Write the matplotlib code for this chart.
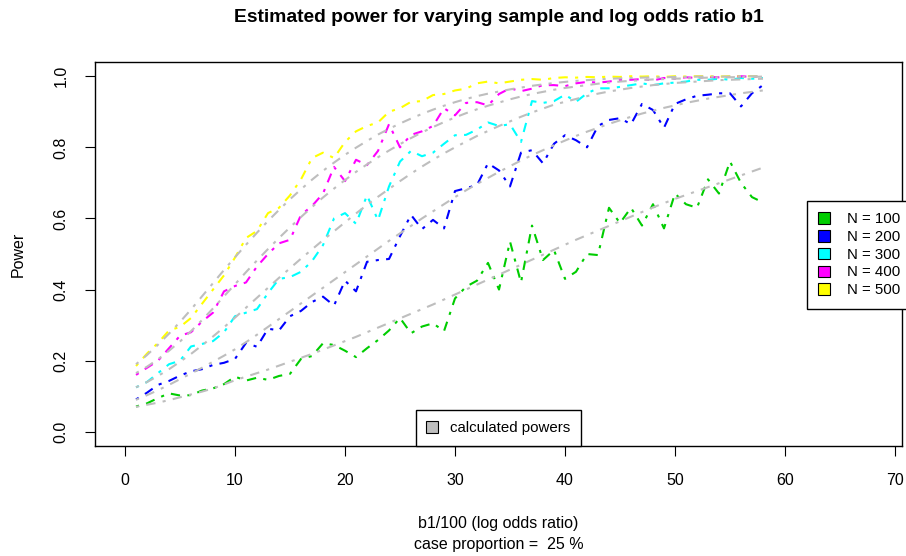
import matplotlib
matplotlib.use("Agg")
import matplotlib.pyplot as plt
from matplotlib.patches import Patch

# ---------------- data ----------------
x_vals = list(range(1, 59))
sample_sizes = [100, 200, 300, 400, 500]

sim_100 = [0.071, 0.080, 0.095, 0.108, 0.102, 0.103, 0.116, 0.122, 0.134, 0.155,
           0.144, 0.152, 0.146, 0.157, 0.163, 0.205, 0.213, 0.249, 0.244, 0.228,
           0.210, 0.235, 0.258, 0.285, 0.320, 0.277, 0.296, 0.305, 0.283, 0.375,
           0.408, 0.425, 0.475, 0.400, 0.535, 0.420, 0.580, 0.483, 0.511, 0.430,
           0.450, 0.500, 0.497, 0.630, 0.587, 0.630, 0.580, 0.640, 0.572, 0.670,
           0.640, 0.630, 0.710, 0.670, 0.760, 0.700, 0.660, 0.645]
sim_200 = [0.091, 0.110, 0.132, 0.143, 0.158, 0.170, 0.176, 0.188, 0.194, 0.205,
           0.250, 0.239, 0.290, 0.285, 0.325, 0.340, 0.365, 0.380, 0.355, 0.425,
           0.395, 0.478, 0.483, 0.486, 0.550, 0.610, 0.570, 0.596, 0.572, 0.677,
           0.685, 0.694, 0.755, 0.735, 0.690, 0.785, 0.792, 0.755, 0.810, 0.834,
           0.820, 0.800, 0.860, 0.877, 0.882, 0.865, 0.922, 0.905, 0.855, 0.922,
           0.935, 0.945, 0.948, 0.952, 0.952, 0.915, 0.952, 0.975]
sim_300 = [0.125, 0.140, 0.165, 0.190, 0.200, 0.240, 0.247, 0.255, 0.280, 0.325,
           0.335, 0.345, 0.390, 0.430, 0.435, 0.450, 0.480, 0.525, 0.600, 0.615,
           0.585, 0.665, 0.595, 0.690, 0.760, 0.790, 0.775, 0.785, 0.810, 0.834,
           0.835, 0.850, 0.870, 0.860, 0.865, 0.815, 0.930, 0.925, 0.930, 0.948,
           0.928, 0.952, 0.966, 0.966, 0.970, 0.975, 0.980, 0.975, 0.980, 0.982,
           0.985, 0.990, 0.990, 0.993, 0.990, 0.995, 0.993, 0.995]
sim_400 = [0.160, 0.180, 0.200, 0.235, 0.270, 0.280, 0.310, 0.335, 0.395, 0.410,
           0.420, 0.465, 0.500, 0.530, 0.540, 0.610, 0.635, 0.670, 0.745, 0.705,
           0.765, 0.750, 0.790, 0.865, 0.800, 0.835, 0.845, 0.860, 0.910, 0.890,
           0.925, 0.927, 0.918, 0.950, 0.966, 0.958, 0.965, 0.975, 0.975, 0.972,
           0.980, 0.984, 0.982, 0.985, 0.990, 0.990, 0.992, 0.988, 0.995, 0.993,
           0.997, 0.995, 0.998, 0.997, 0.998, 1.000, 0.998, 0.999]
sim_500 = [0.185, 0.220, 0.250, 0.285, 0.295, 0.320, 0.360, 0.400, 0.440, 0.490,
           0.545, 0.565, 0.615, 0.630, 0.665, 0.710, 0.770, 0.785, 0.770, 0.815,
           0.845, 0.860, 0.870, 0.900, 0.910, 0.928, 0.930, 0.947, 0.950, 0.960,
           0.965, 0.980, 0.985, 0.980, 0.985, 0.990, 0.992, 0.990, 0.995, 0.997,
           0.996, 0.998, 0.997, 0.999, 0.998, 1.000, 0.999, 1.000, 0.998, 1.000,
           0.999, 1.000, 1.000, 0.999, 1.000, 1.000, 1.000, 1.000]

calc_100 = [0.070, 0.076, 0.082, 0.089, 0.097, 0.105, 0.113, 0.122, 0.133, 0.145,
            0.155, 0.165, 0.175, 0.186, 0.197, 0.208, 0.219, 0.231, 0.243, 0.255,
            0.267, 0.280, 0.293, 0.306, 0.319, 0.332, 0.345, 0.358, 0.372, 0.386,
            0.400, 0.414, 0.428, 0.442, 0.456, 0.470, 0.484, 0.498, 0.512, 0.526,
            0.540, 0.553, 0.566, 0.579, 0.592, 0.605, 0.618, 0.631, 0.643, 0.655,
            0.666, 0.677, 0.688, 0.699, 0.710, 0.721, 0.732, 0.743]
calc_200 = [0.090, 0.103, 0.117, 0.132, 0.148, 0.164, 0.180, 0.197, 0.214, 0.232,
            0.252, 0.273, 0.295, 0.317, 0.339, 0.361, 0.383, 0.405, 0.427, 0.449,
            0.471, 0.493, 0.515, 0.537, 0.558, 0.579, 0.600, 0.620, 0.640, 0.660,
            0.679, 0.697, 0.714, 0.731, 0.747, 0.763, 0.778, 0.792, 0.806, 0.819,
            0.832, 0.844, 0.855, 0.866, 0.876, 0.886, 0.895, 0.903, 0.911, 0.918,
            0.925, 0.931, 0.937, 0.942, 0.947, 0.952, 0.956, 0.960]
calc_300 = [0.125, 0.140, 0.157, 0.176, 0.197, 0.219, 0.243, 0.268, 0.294, 0.321,
            0.349, 0.377, 0.405, 0.433, 0.460, 0.487, 0.513, 0.539, 0.564, 0.589,
            0.614, 0.638, 0.661, 0.683, 0.705, 0.726, 0.746, 0.765, 0.783, 0.800,
            0.816, 0.832, 0.846, 0.860, 0.873, 0.886, 0.898, 0.909, 0.920, 0.928,
            0.936, 0.944, 0.951, 0.957, 0.962, 0.967, 0.971, 0.975, 0.978, 0.981,
            0.983, 0.985, 0.987, 0.989, 0.990, 0.991, 0.992, 0.993]
calc_400 = [0.165, 0.183, 0.204, 0.228, 0.254, 0.283, 0.314, 0.347, 0.381, 0.415,
            0.449, 0.482, 0.514, 0.545, 0.575, 0.604, 0.632, 0.659, 0.684, 0.708,
            0.731, 0.752, 0.772, 0.791, 0.809, 0.826, 0.842, 0.857, 0.871, 0.884,
            0.896, 0.907, 0.917, 0.926, 0.935, 0.943, 0.950, 0.956, 0.962, 0.967,
            0.971, 0.975, 0.979, 0.982, 0.985, 0.987, 0.989, 0.991, 0.992, 0.993,
            0.994, 0.995, 0.996, 0.997, 0.997, 0.998, 0.998, 0.999]
calc_500 = [0.190, 0.216, 0.245, 0.276, 0.309, 0.344, 0.381, 0.418, 0.455, 0.491,
            0.526, 0.560, 0.593, 0.624, 0.654, 0.682, 0.709, 0.734, 0.757, 0.779,
            0.799, 0.818, 0.836, 0.852, 0.867, 0.881, 0.894, 0.906, 0.917, 0.927,
            0.936, 0.944, 0.951, 0.957, 0.963, 0.968, 0.973, 0.977, 0.981, 0.984,
            0.987, 0.989, 0.991, 0.993, 0.994, 0.995, 0.996, 0.997, 0.997, 0.998,
            0.998, 0.999, 0.999, 0.999, 0.999, 1.000, 1.000, 1.000]

x_ticks = [0, 10, 20, 30, 40, 50, 60, 70]
y_ticks = [0.0, 0.2, 0.4, 0.6, 0.8, 1.0]
y_tick_labels = ["0.0", "0.2", "0.4", "0.6", "0.8", "1.0"]

title_text = "Estimated power for varying sample and log odds ratio b1"
xlabel_text = "b1/100 (log odds ratio)\ncase proportion =  25 %"
ylabel_text = "Power"
calc_label = "calculated powers"

sim_series = [sim_100, sim_200, sim_300, sim_400, sim_500]
calc_series = [calc_100, calc_200, calc_300, calc_400, calc_500]
series_colors = ["#00CD00", "#0000FF", "#00FFFF", "#FF00FF", "#FFFF00"]
calc_color = "#BEBEBE"

# ---------------- figure ----------------
plt.rcParams['font.family'] = ['Liberation Sans', 'DejaVu Sans']
W, H = 906, 556
fig = plt.figure(figsize=(W / 100, H / 100), dpi=100)
fig.patch.set_facecolor("white")
ax_l, ax_r, ax_t, ax_b = 95, 902, 62, 446
ax = fig.add_axes([ax_l / W, (H - ax_b) / H, (ax_r - ax_l) / W, (ax_b - ax_t) / H])

dotdash = (0, (1.5, 3.5, 4.5, 3.5))
for sim, col in zip(sim_series, series_colors):
    ax.plot(x_vals, sim, color=col, lw=1.5, linestyle=dotdash,
            dash_capstyle="butt")
for calc in calc_series:
    ax.plot(x_vals, calc, color=calc_color, lw=1.5, linestyle=dotdash,
            dash_capstyle="butt")

ax.set_xlim(-2.73, 70.64)
ax.set_ylim(-0.04, 1.04)
ax.set_xticks(x_ticks)
ax.set_xticklabels([str(t) for t in x_ticks])
ax.set_yticks(y_ticks)
ax.set_yticklabels(y_tick_labels, rotation=90, va="center")

for s in ax.spines.values():
    s.set_linewidth(1.0)
    s.set_color("black")
ax.tick_params(axis="both", direction="out", length=7.2, width=0.8,
               colors="black", labelsize=11.5)
ax.tick_params(axis="x", pad=12)
ax.tick_params(axis="y", pad=12)

fig.text(498.5 / W, 1 - 18 / H, title_text, fontsize=13.9, fontweight="bold",
         ha="center", va="center")
ax.set_xlabel(xlabel_text, fontsize=11.5, linespacing=1.55)
ax.xaxis.set_label_coords(0.5, -(534 - 446) / 384)
ax.xaxis.label.set_va("center")
ax.set_ylabel(ylabel_text, fontsize=11.5)
ax.yaxis.set_label_coords(-(95 - 18) / 807, 0.5)
ax.yaxis.label.set_va("center")

# legends
handles = [Patch(facecolor=c, edgecolor="black", linewidth=0.8) for c in series_colors]
labels = ["N = %d" % n for n in sample_sizes]
leg1 = ax.legend(handles, labels, loc="upper left",
                 bbox_to_anchor=(807 / W, 1 - 201 / H), bbox_transform=fig.transFigure,
                 borderaxespad=0, fontsize=10.8, frameon=True, fancybox=False,
                 edgecolor="black", framealpha=1, handlelength=0.8, handleheight=0.8,
                 handletextpad=1.1, labelspacing=0.25, borderpad=0.75)
leg1.get_frame().set_linewidth(1.0)
ax.add_artist(leg1)

leg2 = ax.legend([Patch(facecolor=calc_color, edgecolor="black", linewidth=0.8)],
                 [calc_label], loc="lower center", bbox_to_anchor=(0.5, 0),
                 borderaxespad=0, fontsize=10.8, frameon=True, fancybox=False,
                 edgecolor="black", framealpha=1, handlelength=0.8, handleheight=0.8,
                 handletextpad=0.8, borderpad=0.72)
leg2.get_frame().set_linewidth(1.0)

fig.savefig("out.png", dpi=100)
